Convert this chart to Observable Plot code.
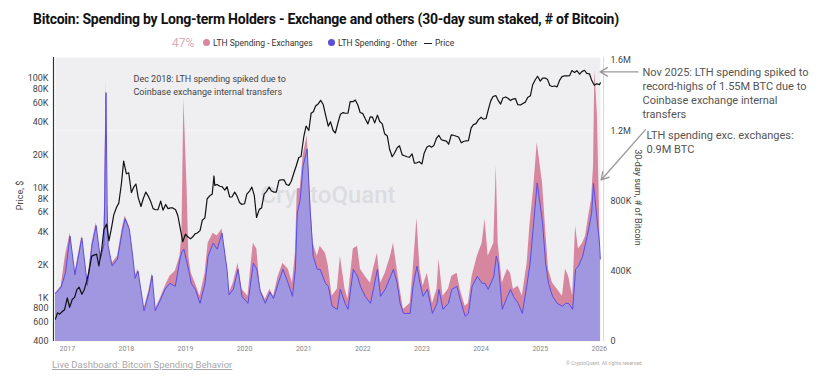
<!DOCTYPE html>
<html>
<head>
<meta charset="utf-8">
<script src="https://cdn.jsdelivr.net/npm/d3@7"></script>
<script src="https://cdn.jsdelivr.net/npm/@observablehq/plot@0.6"></script>
<style>
  body { margin: 0; background: #fff; font-family: Roboto, "Noto Sans", sans-serif; }
  #wrap { position: relative; width: 822px; height: 383px; overflow: hidden; }
  #chart { position: absolute; left: 0; top: 0; }
  #title { position: absolute; left: 33px; top: 11px; font-size: 14px; font-weight: 700; letter-spacing: -0.24px; color: #111; white-space: nowrap; }
  .lg { position: absolute; top: 37px; font-size: 8.5px; color: #333; white-space: nowrap; line-height: 12px; }
  .dot { position: absolute; top: 39px; width: 7px; height: 7px; border-radius: 50%; }
  .pct { position: absolute; left: 172px; top: 36px; font-size: 12px; color: #d9aab8; }
  .pline { position: absolute; left: 424px; top: 42.5px; width: 8px; height: 1.2px; background: #222; }
  #link { position: absolute; left: 52px; top: 359px; font-size: 9.5px; color: #a8a8a8; text-decoration: underline; white-space: nowrap; }
  #copy { position: absolute; left: 566px; top: 360px; font-size: 5px; color: #aaa; white-space: nowrap; }
</style>
</head>
<body>
<div id="wrap">
  <div id="title"></div>
  <div id="legend"></div>
  <div id="chart"></div>
  <div id="link"></div>
  <div id="copy"></div>
</div>
<script>
// ---------- Text ----------
const titleText = "Bitcoin: Spending by Long-term Holders - Exchange and others (30-day sum staked, # of Bitcoin)";
const seriesNames = ["LTH Spending - Exchanges", "LTH Spending - Other", "Price"];
const seriesColors = ["#d7869f", "#5a4de0", "#222"];
const legendPct = "47%";
const linkText = "Live Dashboard: Bitcoin Spending Behavior";
const copyText = "© CryptoQuant. All rights reserved";
const noteDec2018 = "Dec 2018: LTH spending spiked due to\nCoinbase exchange internal transfers";
const noteNov2025 = "Nov 2025: LTH spending spiked to\nrecord-highs of 1.55M BTC due to\nCoinbase exchange internal\ntransfers";
const noteExEx = "LTH spending exc. exchanges:\n0.9M BTC";
const watermark = "CryptoQuant";
const leftLabel = "Price, $";
const rightLabel = "30-day sum, # of Bitcoin";

// ---------- Axis ticks ----------
const yearTicks = [2017, 2018, 2019, 2020, 2021, 2022, 2023, 2024, 2025, 2026];
const priceTicks = [400, 600, 800, 1000, 2000, 4000, 6000, 8000, 10000, 20000, 40000, 60000, 80000, 100000];
const priceTickLabels = ["400", "600", "800", "1K", "2K", "4K", "6K", "8K", "10K", "20K", "40K", "60K", "80K", "100K"];
const spendTicks = [0, 400000, 800000, 1200000, 1600000];
const spendTickLabels = ["0", "400K", "800K", "1.2M", "1.6M"];

// ---------- LTH spending (30-day sum, thousands of BTC) ----------
const lthDates = [
"2016-10-20","2016-11-24","2016-12-20","2017-01-18","2017-02-17","2017-04-01","2017-05-05","2017-06-03","2017-06-28","2017-07-24",
"2017-08-15","2017-08-21","2017-08-28","2017-09-04","2017-09-10","2017-10-05","2017-11-07","2017-12-06","2017-12-24","2018-01-19",
"2018-02-06","2018-02-24","2018-03-14","2018-04-20","2018-05-22","2018-06-09","2018-06-28","2018-07-27","2018-08-29","2018-09-27",
"2018-10-30","2018-11-28","2018-12-10","2018-12-22","2019-01-11","2019-01-22","2019-02-06","2019-03-03","2019-04-01","2019-05-02",
"2019-05-21","2019-06-21","2019-07-16","2019-08-15","2019-09-16","2019-09-27","2019-10-23","2019-11-22","2019-12-16","2020-01-22",
"2020-02-24","2020-03-17","2020-04-07","2020-05-08","2020-06-06","2020-06-28","2020-07-27","2020-08-25","2020-09-27","2020-10-23",
"2020-11-10","2020-11-22","2020-12-10","2020-12-28","2021-01-22","2021-02-09","2021-02-28","2021-03-25","2021-04-12","2021-05-15",
"2021-06-02","2021-06-25","2021-07-27","2021-08-15","2021-09-13","2021-10-01","2021-11-03","2021-11-29","2021-12-17","2022-01-15",
"2022-02-17","2022-03-07","2022-04-01","2022-04-20","2022-05-19","2022-06-21","2022-07-09","2022-08-01","2022-08-19","2022-09-09",
"2022-10-20","2022-11-07","2022-12-01","2022-12-20","2023-01-08","2023-02-03","2023-03-07","2023-04-04","2023-04-16","2023-05-11",
"2023-06-13","2023-07-05","2023-08-06","2023-08-25","2023-09-25","2023-10-15","2023-11-07","2023-12-09","2024-01-08","2024-01-26",
"2024-02-14","2024-03-20","2024-04-04","2024-04-16","2024-05-11","2024-06-12","2024-07-01","2024-07-19","2024-08-18","2024-09-12",
"2024-10-12","2024-10-30","2024-11-21","2024-12-13","2025-01-15","2025-02-03","2025-02-21","2025-03-18","2025-04-16","2025-05-18",
"2025-06-06","2025-06-25","2025-07-20","2025-08-07","2025-08-25","2025-09-20","2025-10-08","2025-10-27","2025-11-14","2025-11-26",
"2025-12-04","2025-12-20","2026-01-01","2026-01-07"];
const lthTotalK = [
274,314,486,617,389,600,331,560,674,486,
560,900,1486,820,560,446,486,640,714,657,
526,371,411,183,297,389,183,240,314,371,
400,486,600,1383,869,480,389,331,257,389,
560,617,600,640,411,274,331,446,297,257,
560,526,297,240,297,257,371,446,411,331,
503,869,869,1057,1171,829,560,486,543,503,
429,257,297,486,297,240,526,543,411,371,
331,411,503,331,389,486,560,411,297,183,
217,400,703,411,314,389,217,297,469,257,
297,371,389,297,200,217,371,486,560,697,
486,560,1000,560,331,411,389,297,314,257,
446,674,869,1131,903,640,411,331,297,257,
411,371,257,657,526,560,600,714,811,1000,
1550,1290,771,469];
const lthOtherK = [
274,310,389,600,380,590,320,550,660,470,
550,860,1417,780,545,430,470,625,700,640,
510,360,400,175,285,375,175,230,300,331,
314,469,510,526,446,400,331,297,217,331,
486,560,526,617,400,265,297,411,257,217,
446,411,285,217,280,245,331,411,331,257,
411,731,811,1000,1097,754,486,411,411,331,
314,200,183,297,217,183,411,371,314,257,
217,297,411,257,297,371,411,331,217,160,
160,314,429,331,257,297,160,217,297,183,
217,297,314,240,143,160,314,371,331,331,
297,371,486,446,183,257,297,257,217,160,
331,446,674,903,674,446,331,257,217,200,
217,217,183,411,429,486,560,640,731,900,
820,674,571,469];

// ---------- BTC price (USD) ----------
const priceDates = [
"2016-10-20","2016-11-01","2016-11-15","2016-12-01","2016-12-15",
"2017-01-01","2017-01-15","2017-02-01","2017-02-15","2017-03-01","2017-03-15","2017-04-01","2017-04-15","2017-05-01","2017-05-15","2017-06-01","2017-06-15","2017-07-01","2017-07-15","2017-08-01","2017-08-15","2017-09-01","2017-09-15","2017-10-01","2017-10-15","2017-11-01","2017-11-15","2017-12-01","2017-12-15",
"2018-01-01","2018-01-15","2018-02-01","2018-02-15","2018-03-01","2018-03-15","2018-04-01","2018-04-15","2018-05-01","2018-05-15","2018-06-01","2018-06-15","2018-07-01","2018-07-15","2018-08-01","2018-08-15","2018-09-01","2018-09-15","2018-10-01","2018-10-15","2018-11-01","2018-11-15","2018-12-01","2018-12-15",
"2019-01-01","2019-01-15","2019-02-01","2019-02-15","2019-03-01","2019-03-15","2019-04-01","2019-04-15","2019-05-01","2019-05-15","2019-06-01","2019-06-15","2019-06-26","2019-07-01","2019-07-15","2019-08-01","2019-08-15","2019-09-01","2019-09-15","2019-10-01","2019-10-15","2019-11-01","2019-11-15","2019-12-01","2019-12-15",
"2020-01-01","2020-01-15","2020-02-01","2020-02-15","2020-03-01","2020-03-15","2020-04-01","2020-04-15","2020-05-01","2020-05-15","2020-06-01","2020-06-15","2020-07-01","2020-07-15","2020-08-01","2020-08-15","2020-09-01","2020-09-15","2020-10-01","2020-10-15","2020-11-01","2020-11-15","2020-12-01","2020-12-15",
"2021-01-01","2021-01-15","2021-02-01","2021-02-15","2021-03-01","2021-03-15","2021-04-01","2021-04-15","2021-05-01","2021-05-15","2021-06-01","2021-06-15","2021-07-01","2021-07-15","2021-08-01","2021-08-15","2021-09-01","2021-09-15","2021-10-01","2021-10-15","2021-11-01","2021-11-15","2021-12-01","2021-12-15",
"2022-01-01","2022-01-15","2022-02-01","2022-02-15","2022-03-01","2022-03-15","2022-04-01","2022-04-15","2022-05-01","2022-05-15","2022-06-01","2022-06-15","2022-07-01","2022-07-15","2022-08-01","2022-08-15","2022-09-01","2022-09-15","2022-10-01","2022-10-15","2022-11-01","2022-11-15","2022-12-01","2022-12-15",
"2023-01-01","2023-01-15","2023-02-01","2023-02-15","2023-03-01","2023-03-15","2023-04-01","2023-04-15","2023-05-01","2023-05-15","2023-06-01","2023-06-15","2023-07-01","2023-07-15","2023-08-01","2023-08-15","2023-09-01","2023-09-15","2023-10-01","2023-10-15","2023-11-01","2023-11-15","2023-12-01","2023-12-15",
"2024-01-01","2024-01-15","2024-02-01","2024-02-15","2024-03-01","2024-03-15","2024-04-01","2024-04-15","2024-05-01","2024-05-15","2024-06-01","2024-06-15","2024-07-01","2024-07-15","2024-08-01","2024-08-15","2024-09-01","2024-09-15","2024-10-01","2024-10-15","2024-11-01","2024-11-15","2024-12-01","2024-12-15",
"2025-01-01","2025-01-15","2025-02-01","2025-02-15","2025-03-01","2025-03-15","2025-04-01","2025-04-15","2025-05-01","2025-05-15","2025-06-01","2025-06-15","2025-07-01","2025-07-15","2025-08-01","2025-08-15","2025-09-01","2025-09-15","2025-10-01","2025-10-15","2025-11-01","2025-11-15","2025-12-01","2025-12-15",
"2026-01-01","2026-01-07"];
const priceUSD = [
640,730,710,750,780,
1000,820,970,1010,1190,1250,1080,1180,1420,1750,2400,2450,2500,1950,2750,4200,4700,3300,4350,5700,6700,7300,10900,17600,
13500,13800,9100,10200,10900,8200,6800,8000,9200,8500,7500,6500,6350,6350,7600,6300,7100,6500,6600,6600,6350,5600,4200,3250,
3800,3600,3450,3600,3830,3900,4100,5100,5350,8000,8550,8800,12900,10600,10800,10400,10300,9600,10300,8300,8300,9200,8500,7400,7100,
7200,8800,9400,10200,8600,5400,6400,6600,8800,9300,10200,9400,9200,9200,11800,11900,11900,10800,10600,11500,13800,15900,19000,19400,
29400,36800,33500,48000,49600,56000,58800,63100,57800,46800,36700,40200,33500,31800,39800,47000,48800,48100,48200,61600,61300,63500,57200,48900,
47700,43100,38500,44500,44400,39300,46300,40500,38500,31300,29800,22600,19300,20800,23300,24300,20100,19700,19300,19100,20500,16900,17000,17400,
16600,20900,23700,24300,23600,24400,28500,30300,27600,27200,26800,25100,30600,30300,29700,29200,25900,26600,27000,27100,35400,37900,38700,41900,
44200,42500,43100,51900,62400,68400,69700,63400,58300,66200,67700,66000,62800,64800,65300,57600,57300,59100,60800,67000,69500,87500,97200,104500,
94400,100500,100600,97500,86000,84300,85200,83700,96500,103700,105700,105500,105700,117700,113300,117400,109200,115300,118600,111000,110100,95500,86500,89500,
87500,91000];

// ---------- Scales ----------
const xStart = "2016-10-20", xEnd = "2026-01-08";
const spendMax = 1617000;                 // right axis top
const priceMin = 400, priceMax = 155000;  // left (log) axis range
const toY = p => (Math.log10(p) - Math.log10(priceMin)) / (Math.log10(priceMax) - Math.log10(priceMin)) * spendMax;

// ---------- Tables ----------
const lth = lthDates.map((d, i) => ({date: new Date(d), total: lthTotalK[i] * 1000, other: lthOtherK[i] * 1000}));
const price = priceDates.map((d, i) => ({date: new Date(d), price: priceUSD[i]}));
const priceLabelMap = new Map(priceTicks.map((p, i) => [toY(p), priceTickLabels[i]]));
const spendLabelMap = new Map(spendTicks.map((v, i) => [v, spendTickLabels[i]]));

// arrows (head at the pointed value; tail next to the note)
const arrows = [
  {x1: new Date("2026-08-28"), y1: 1535000, x2: new Date("2026-01-06"), y2: 1535000},
  {x1: new Date("2026-10-12"), y1: 1205000, x2: new Date("2026-01-12"), y2: 920000}
];

// ---------- HTML text ----------
document.getElementById("title").textContent = titleText;
document.getElementById("link").textContent = linkText;
document.getElementById("copy").textContent = copyText;
const legend = document.getElementById("legend");
legend.innerHTML =
  `<span class="pct">${legendPct}</span>` +
  `<span class="dot" style="left:203px;background:${seriesColors[0]}"></span><span class="lg" style="left:213px">${seriesNames[0]}</span>` +
  `<span class="dot" style="left:328px;background:${seriesColors[1]}"></span><span class="lg" style="left:338px">${seriesNames[1]}</span>` +
  `<span class="pline"></span><span class="lg" style="left:435px">${seriesNames[2]}</span>`;

// ---------- Plot ----------
const chart = Plot.plot({
  width: 822,
  height: 383,
  marginTop: 57,
  marginBottom: 42,
  marginLeft: 55,
  marginRight: 222,
  style: {fontFamily: "Roboto, 'Noto Sans', sans-serif", background: "transparent", overflow: "visible"},
  x: {type: "utc", domain: [new Date(xStart), new Date(xEnd)]},
  y: {domain: [0, spendMax]},
  marks: [
    Plot.frame({fill: "#efeff2", stroke: null}),
    Plot.ruleY([1200000], {stroke: "#f8f8fa", strokeWidth: 1.2}),
    Plot.text([watermark], {frameAnchor: "middle", dy: -4, fontSize: 24, fontWeight: 500, fill: "#dcdce1"}),
    Plot.areaY(lth, {x: "date", y: "total", fill: "#d7869f", curve: "linear"}),
    Plot.areaY(lth, {x: "date", y: "other", fill: "#a197e0", curve: "linear"}),
    Plot.lineY(lth, {x: "date", y: "other", stroke: "#5a4de0", strokeWidth: 1, curve: "linear"}),
    Plot.lineY(price, {x: "date", y: d => toY(d.price), stroke: "#111", strokeWidth: 1.2}),
    Plot.ruleX([new Date(xStart)], {dx: -2, stroke: "#333", strokeWidth: 1.2}),
    Plot.ruleX([new Date(xEnd)], {dx: 3, stroke: "#dadada", strokeWidth: 1}),
    Plot.axisY({anchor: "left", ticks: priceTicks.map(toY), tickFormat: d => priceLabelMap.get(d), tickSize: 0, tickPadding: 7, fontSize: 9, fill: "#444", label: null}),
    Plot.axisY({anchor: "right", ticks: spendTicks, tickFormat: d => spendLabelMap.get(d), tickSize: 0, tickPadding: 10, fontSize: 9, fill: "#444", label: null}),
    Plot.axisX({ticks: yearTicks.map(y => new Date(`${y}-01-01`)), tickFormat: d3.utcFormat("%Y"), tickSize: 0, tickPadding: 5, fontSize: 7, fill: "#888", label: null}),
    Plot.text([leftLabel], {frameAnchor: "left", dx: -35, dy: -4, rotate: -90, textAnchor: "middle", fontSize: 9, fill: "#444"}),
    Plot.text([rightLabel], {frameAnchor: "right", dx: 37, dy: -2, rotate: 90, textAnchor: "middle", fontSize: 9, fill: "#444"}),
    Plot.text([noteDec2018], {frameAnchor: "top-left", dx: 78, dy: 15, textAnchor: "start", lineAnchor: "top", fontSize: 9, lineHeight: 1.45, fill: "#444"}),
    Plot.text([noteNov2025], {frameAnchor: "top-right", dx: 42, dy: 9, textAnchor: "start", lineAnchor: "top", fontSize: 11, lineHeight: 1.27, fill: "#555"}),
    Plot.text([noteExEx], {frameAnchor: "top-right", dx: 46, dy: 72, textAnchor: "start", lineAnchor: "top", fontSize: 11, lineHeight: 1.27, fill: "#555"}),
    Plot.arrow(arrows, {x1: "x1", y1: "y1", x2: "x2", y2: "y2", stroke: "#9a9a9a", strokeWidth: 1.4, headLength: 9})
  ]
});
document.getElementById("chart").appendChild(chart);
</script>
</body>
</html>
